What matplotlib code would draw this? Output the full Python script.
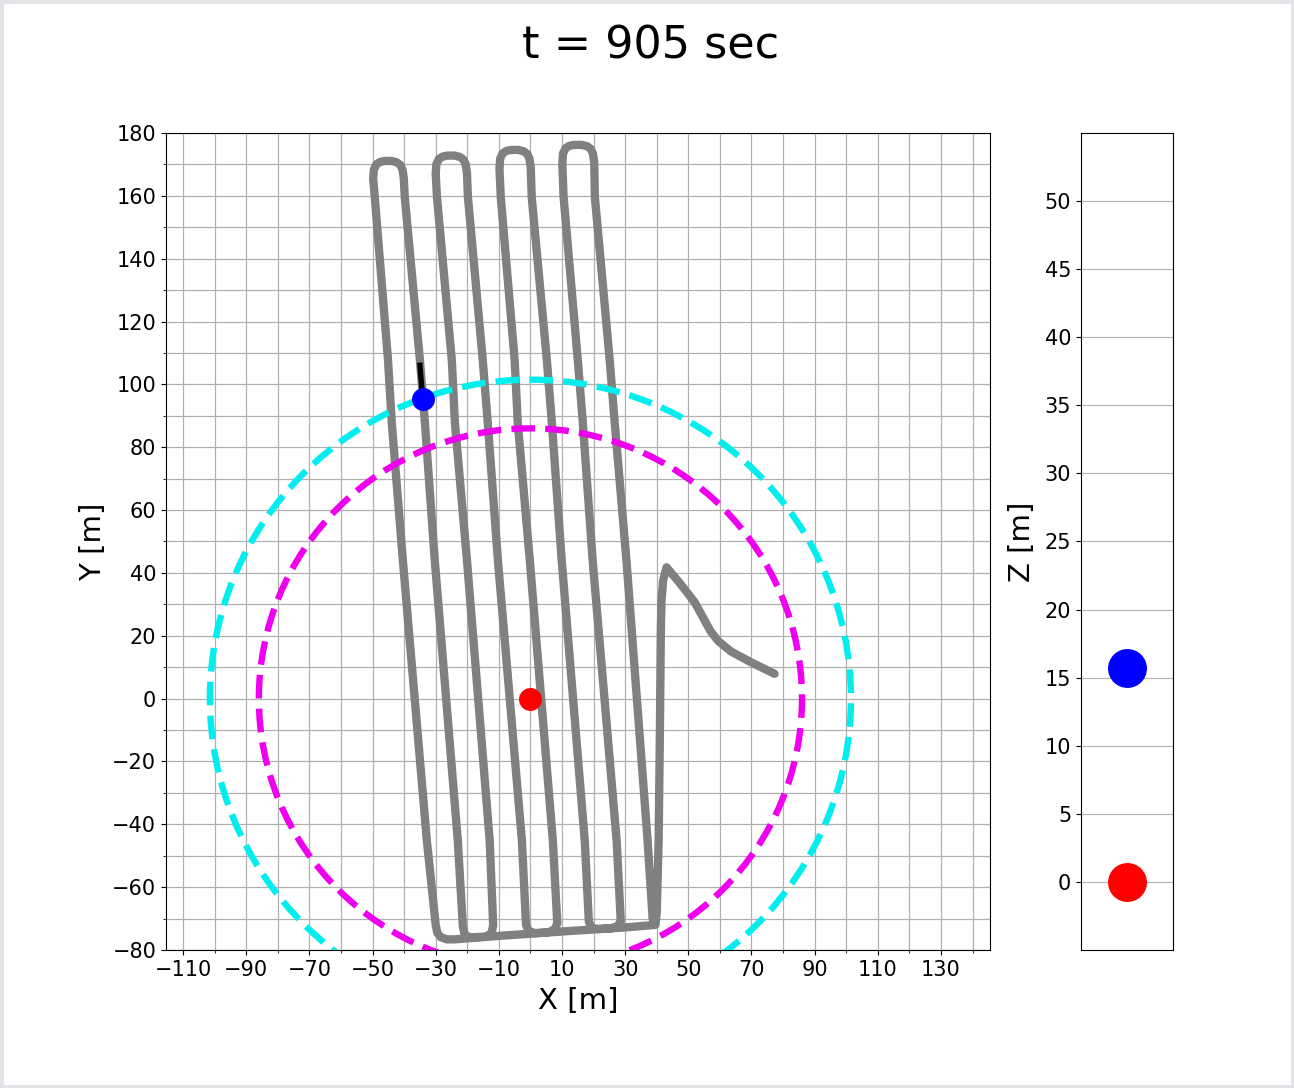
import matplotlib
matplotlib.use('Agg')
import matplotlib.pyplot as plt
import numpy as np
from matplotlib.patches import Circle, Rectangle

# ---------------- data ----------------
title_text = "t = 905 sec"

track_x = [
    77.3, 70.0, 63.5, 59.5, 57.0, 52.0, 47.5, 43.1, 42.0, 41.5, 41.3, 41.0, 40.6, 40.0, 39.6,
    30.0, 10.0, -10.0, -24.0, -26.5, -28.4, -29.5, -30.0,
    -32.8, -40.4, -43.9, -45.1, -49.3, -49.8, -49.6, -48.8, -47.6, -46.0, -44.0, -42.4, -41.2, -40.5, -40.1, -39.8,
    -35.0, -33.4, -30.3, -23.0, -21.4, -20.8, -19.0, -14.0, -12.3, -11.8,
    -12.9, -20.1, -23.9, -24.9, -29.6, -30.0, -29.8, -29.0, -27.8, -26.2, -24.0, -22.4, -21.2, -20.5, -20.1, -19.8,
    -15.1, -13.5, -10.3, -2.7, -1.4, -0.5, 1.5, 5.5, 7.6, 8.5,
    7.1, -0.2, -4.0, -5.0, -9.4, -9.8, -9.6, -8.8, -7.6, -6.0, -3.8, -2.2, -1.0, -0.3, 0.1, 0.4,
    5.2, 6.8, 9.9, 17.2, 18.5, 19.4, 21.5, 25.5, 27.7, 28.6,
    27.3, 19.7, 16.6, 15.0, 10.5, 10.1, 10.3, 11.1, 12.3, 13.9, 16.2, 17.9, 19.1, 19.8, 20.2, 20.4,
    25.1, 26.7, 30.4, 37.1, 38.7,
]
track_y = [
    7.9, 11.5, 15.0, 18.3, 21.5, 30.7, 36.5, 41.8, 37.5, 31.0, 22.0, -10.0, -45.0, -68.0, -72.0,
    -72.8, -74.1, -75.5, -76.6, -76.6, -75.9, -74.5, -72.0,
    -45.2, 44.0, 87.6, 107.7, 159.6, 165.5, 168.3, 170.0, 170.8, 171.1, 171.1, 170.7, 169.8, 168.3, 165.5, 159.6,
    107.7, 87.6, 44.0, -45.2, -72.5, -75.2, -76.0, -75.7, -74.6, -72.0,
    -45.2, 44.0, 87.6, 107.7, 159.6, 167.0, 170.0, 171.7, 172.5, 172.8, 172.8, 172.4, 171.5, 170.0, 167.2, 159.6,
    107.7, 87.6, 44.0, -45.2, -72.0, -74.0, -74.6, -74.4, -73.5, -71.5,
    -45.2, 44.0, 87.6, 107.7, 159.6, 168.5, 171.8, 173.5, 174.3, 174.6, 174.6, 174.2, 173.3, 171.8, 169.0, 159.6,
    107.7, 87.6, 44.0, -45.2, -71.0, -72.9, -73.3, -73.1, -72.3, -70.8,
    -45.2, 44.0, 87.6, 107.7, 159.6, 170.0, 173.4, 175.1, 175.9, 176.2, 176.2, 175.8, 174.9, 173.4, 170.6, 159.6,
    107.7, 87.6, 44.0, -45.2, -70.0,
]

target_x, target_y, target_z = 0.0, 0.0, 0.0
vehicle_x, vehicle_y, vehicle_z = -34.1, 95.3, 15.7
heading_x = [-34.1, -35.0]
heading_y = [95.3, 106.1]

inner_radius = 86.0
outer_radius = 101.5

x_major = list(range(-110, 131, 20))
x_minor = list(range(-100, 141, 20))
y_major = list(range(-80, 181, 20))
y_minor = list(range(-70, 171, 20))
z_ticks = list(range(0, 51, 5))

# ---------------- figure ----------------
fig = plt.figure(figsize=(12.94, 10.88), dpi=100)
fig.patches.append(Rectangle((0, 0), 1, 1, transform=fig.transFigure,
                             fill=False, edgecolor='#e2e4e8', linewidth=5, zorder=0))

ax = fig.add_axes([0.1283, 0.1268, 0.6367, 0.7510])
axz = fig.add_axes([0.8354, 0.1268, 0.0711, 0.7510])

ax.plot(track_x, track_y, color='gray', lw=6.0, solid_joinstyle='round',
        solid_capstyle='round', zorder=2)

for r, c in [(outer_radius, '#00eeee'), (inner_radius, '#ee00ee')]:
    ax.add_patch(Circle((target_x, target_y), r, fill=False, edgecolor=c,
                        linestyle='--', linewidth=4.6, zorder=3))

ax.plot(heading_x, heading_y, color='black', lw=3.8, zorder=4)
ax.plot([target_x], [target_y], 'o', color='red', markersize=15.5, zorder=5)
ax.plot([vehicle_x], [vehicle_y], 'o', color='blue', markersize=15.5, zorder=5)

ax.set_xlim(-115.4, 145.5)
ax.set_ylim(-80, 180)
ax.set_xticks(x_major)
ax.set_xticks(x_minor, minor=True)
ax.set_yticks(y_major)
ax.set_yticks(y_minor, minor=True)
ax.grid(True, which='both', color='#b0b0b0', linewidth=0.9)
ax.set_axisbelow(True)
ax.tick_params(axis='both', which='major', labelsize=15)
ax.set_xlabel('X [m]', fontsize=21, labelpad=5)
ax.set_ylabel('Y [m]', fontsize=21, labelpad=4)

# Z axis
axz.plot([0], [vehicle_z], 'o', color='blue', markersize=27)
axz.plot([0], [target_z], 'o', color='red', markersize=27)
axz.set_xlim(-1, 1)
axz.set_ylim(-5, 55)
axz.set_xticks([])
axz.set_yticks(z_ticks)
axz.grid(True, axis='y', color='#b8b8b8', linewidth=0.9)
axz.set_axisbelow(True)
axz.tick_params(axis='y', labelsize=15)
axz.set_ylabel('Z [m]', fontsize=21, labelpad=6)

fig.text(0.503, 0.958, title_text, ha='center', va='center', fontsize=32)

fig.savefig('out.png', dpi=100)
